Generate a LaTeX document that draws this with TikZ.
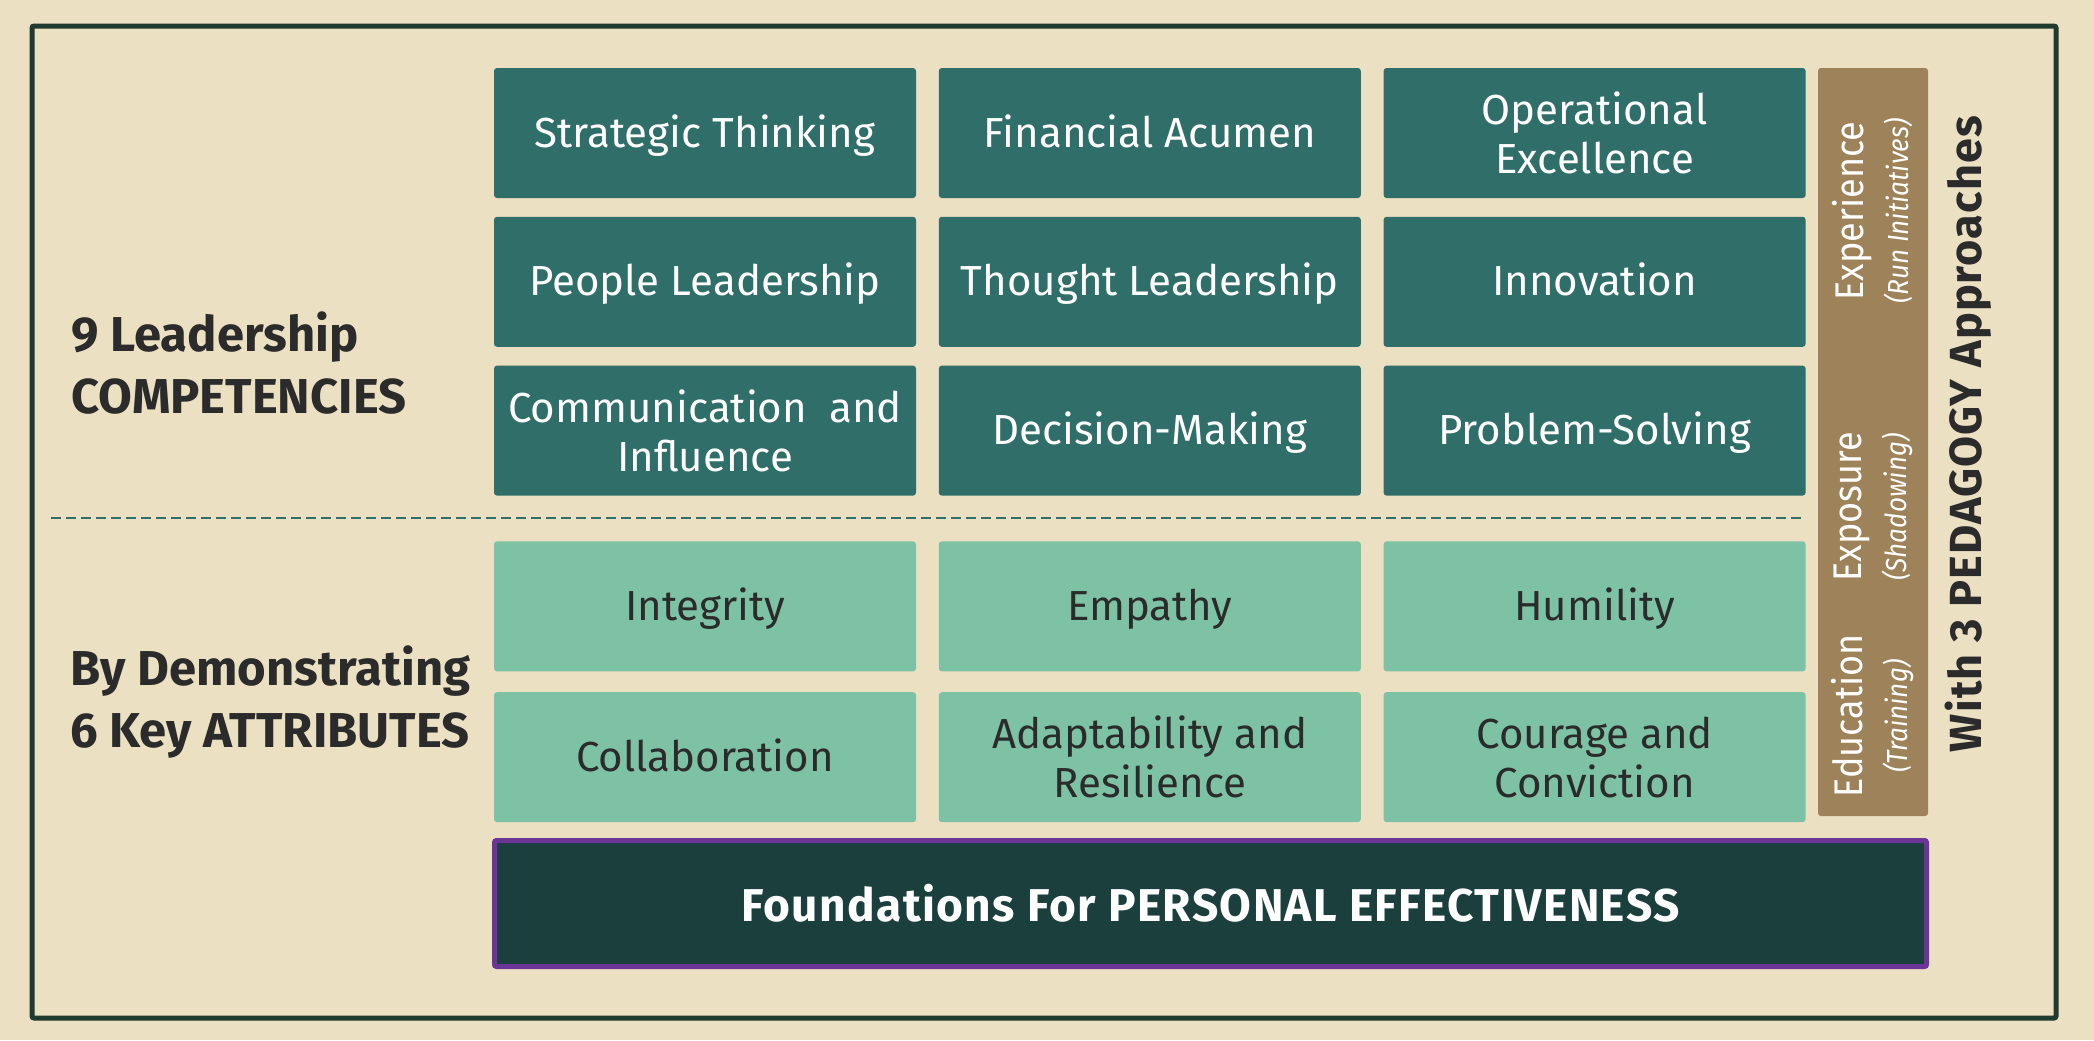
\documentclass[tikz,border=0pt]{standalone}
\usepackage{fontspec}
\setmainfont{Fira Sans}
\newfontfamily\narrowfont[FakeStretch=0.9]{Fira Sans}
\usepackage{tikz}
\usetikzlibrary{positioning}

\definecolor{pagebg}{HTML}{ECE0C3}
\definecolor{framegreen}{HTML}{1F3A2F}
\definecolor{compteal}{HTML}{2F6E69}
\definecolor{attrgreen}{HTML}{7EC2A5}
\definecolor{pedbrown}{HTML}{9E8259}
\definecolor{foundfill}{HTML}{1B3F3D}
\definecolor{foundborder}{HTML}{6B3597}
\definecolor{txtdark}{HTML}{2B2B2B}

\begin{document}
\begin{tikzpicture}[
    x=0.5pt, y=-0.5pt,
    node distance=9pt and 11pt,
    comp/.style={fill=compteal, text=white, rounded corners=1.5pt, align=center, minimum width=211pt, minimum height=65pt, inner sep=2pt, font=\fontsize{21}{24.5}\selectfont},
    attr/.style={comp, fill=attrgreen, text=txtdark},
    oneline/.style={text height=19pt, text depth=5pt},
    sidetext/.style={text=txtdark, align=left, inner sep=0pt, font=\bfseries\fontsize{24.5}{31}\selectfont},
    pedtext/.style={text=white, align=center, inner sep=0pt, rotate=90, font=\narrowfont\fontsize{20}{22.5}\selectfont},
    pedtitle/.style={text=txtdark, inner sep=0pt, rotate=90, font=\bfseries\fontsize{22.5}{26}\selectfont\addfontfeatures{LetterSpace=2.5}}
]
\fill[pagebg] (0,0) rectangle (2094,1040);
\draw[framegreen, line width=2.5pt, rounded corners=1pt] (32,26) rectangle (2056,1018);

% competencies
\node[comp, oneline] (strategic) at (705,133) {Strategic Thinking};
\node[comp, oneline, right=of strategic] (financial) {Financial Acumen};
\node[comp, right=of financial] (operational) {Operational\\Excellence};
\node[comp, oneline, below=of strategic] (people) {People Leadership};
\node[comp, oneline, right=of people] (thought) {Thought Leadership};
\node[comp, oneline, right=of thought] (innovation) {Innovation};
\node[comp, below=of people] (communication) {Communication\ \ and\\Influence};
\node[comp, oneline, right=of communication] (decision) {Decision-Making};
\node[comp, oneline, right=of decision] (problem) {Problem-Solving};

% attributes
\node[attr, oneline, below=22.5pt of communication] (integrity) {Integrity};
\node[attr, oneline, right=of integrity] (empathy) {Empathy};
\node[attr, oneline, right=of empathy] (humility) {Humility};
\node[attr, oneline, below=10pt of integrity] (collaboration) {Collaboration};
\node[attr, right=of collaboration] (adaptability) {Adaptability and\\Resilience};
\node[attr, right=of adaptability] (courage) {Courage and\\Conviction};

\draw[compteal, line width=1pt, dash pattern=on 5pt off 2.5pt] (51,518) -- (1803,518);

% side headings
\node[sidetext, anchor=west] (comphead) at (71,363) {9 Leadership\\COMPETENCIES};
\node[sidetext, anchor=west] (attrhead) at (70,702) {By Demonstrating\\6 Key ATTRIBUTES};

% foundation
\node[fill=foundfill, draw=foundborder, line width=2.5pt, rounded corners=1pt, minimum width=716pt, minimum height=63pt, text=white, font=\bfseries\fontsize{23}{26}\selectfont\addfontfeatures{LetterSpace=3}] (foundation) at (1210.5,903.5) {Foundations For PERSONAL EFFECTIVENESS};

% pedagogy
\node[fill=pedbrown, rounded corners=1.5pt, minimum width=55pt, minimum height=374pt, inner sep=0pt] (pedbar) at (1873,442) {};
\node[pedtext] (experience) at (1873,211) {Experience\\{\itshape\fontsize{14.5}{22.5}\selectfont(Run Initiatives)}};
\node[pedtext] (exposure) at (1873,507) {Exposure\\{\itshape\fontsize{14.5}{22.5}\selectfont(Shadowing)}};
\node[pedtext] (education) at (1873,716) {Education\\{\itshape\fontsize{14.5}{22.5}\selectfont(Training)}};
\node[pedtitle, anchor=base] (pedhead) at (1981,434) {With 3 PEDAGOGY Approaches};
\end{tikzpicture}
\end{document}
